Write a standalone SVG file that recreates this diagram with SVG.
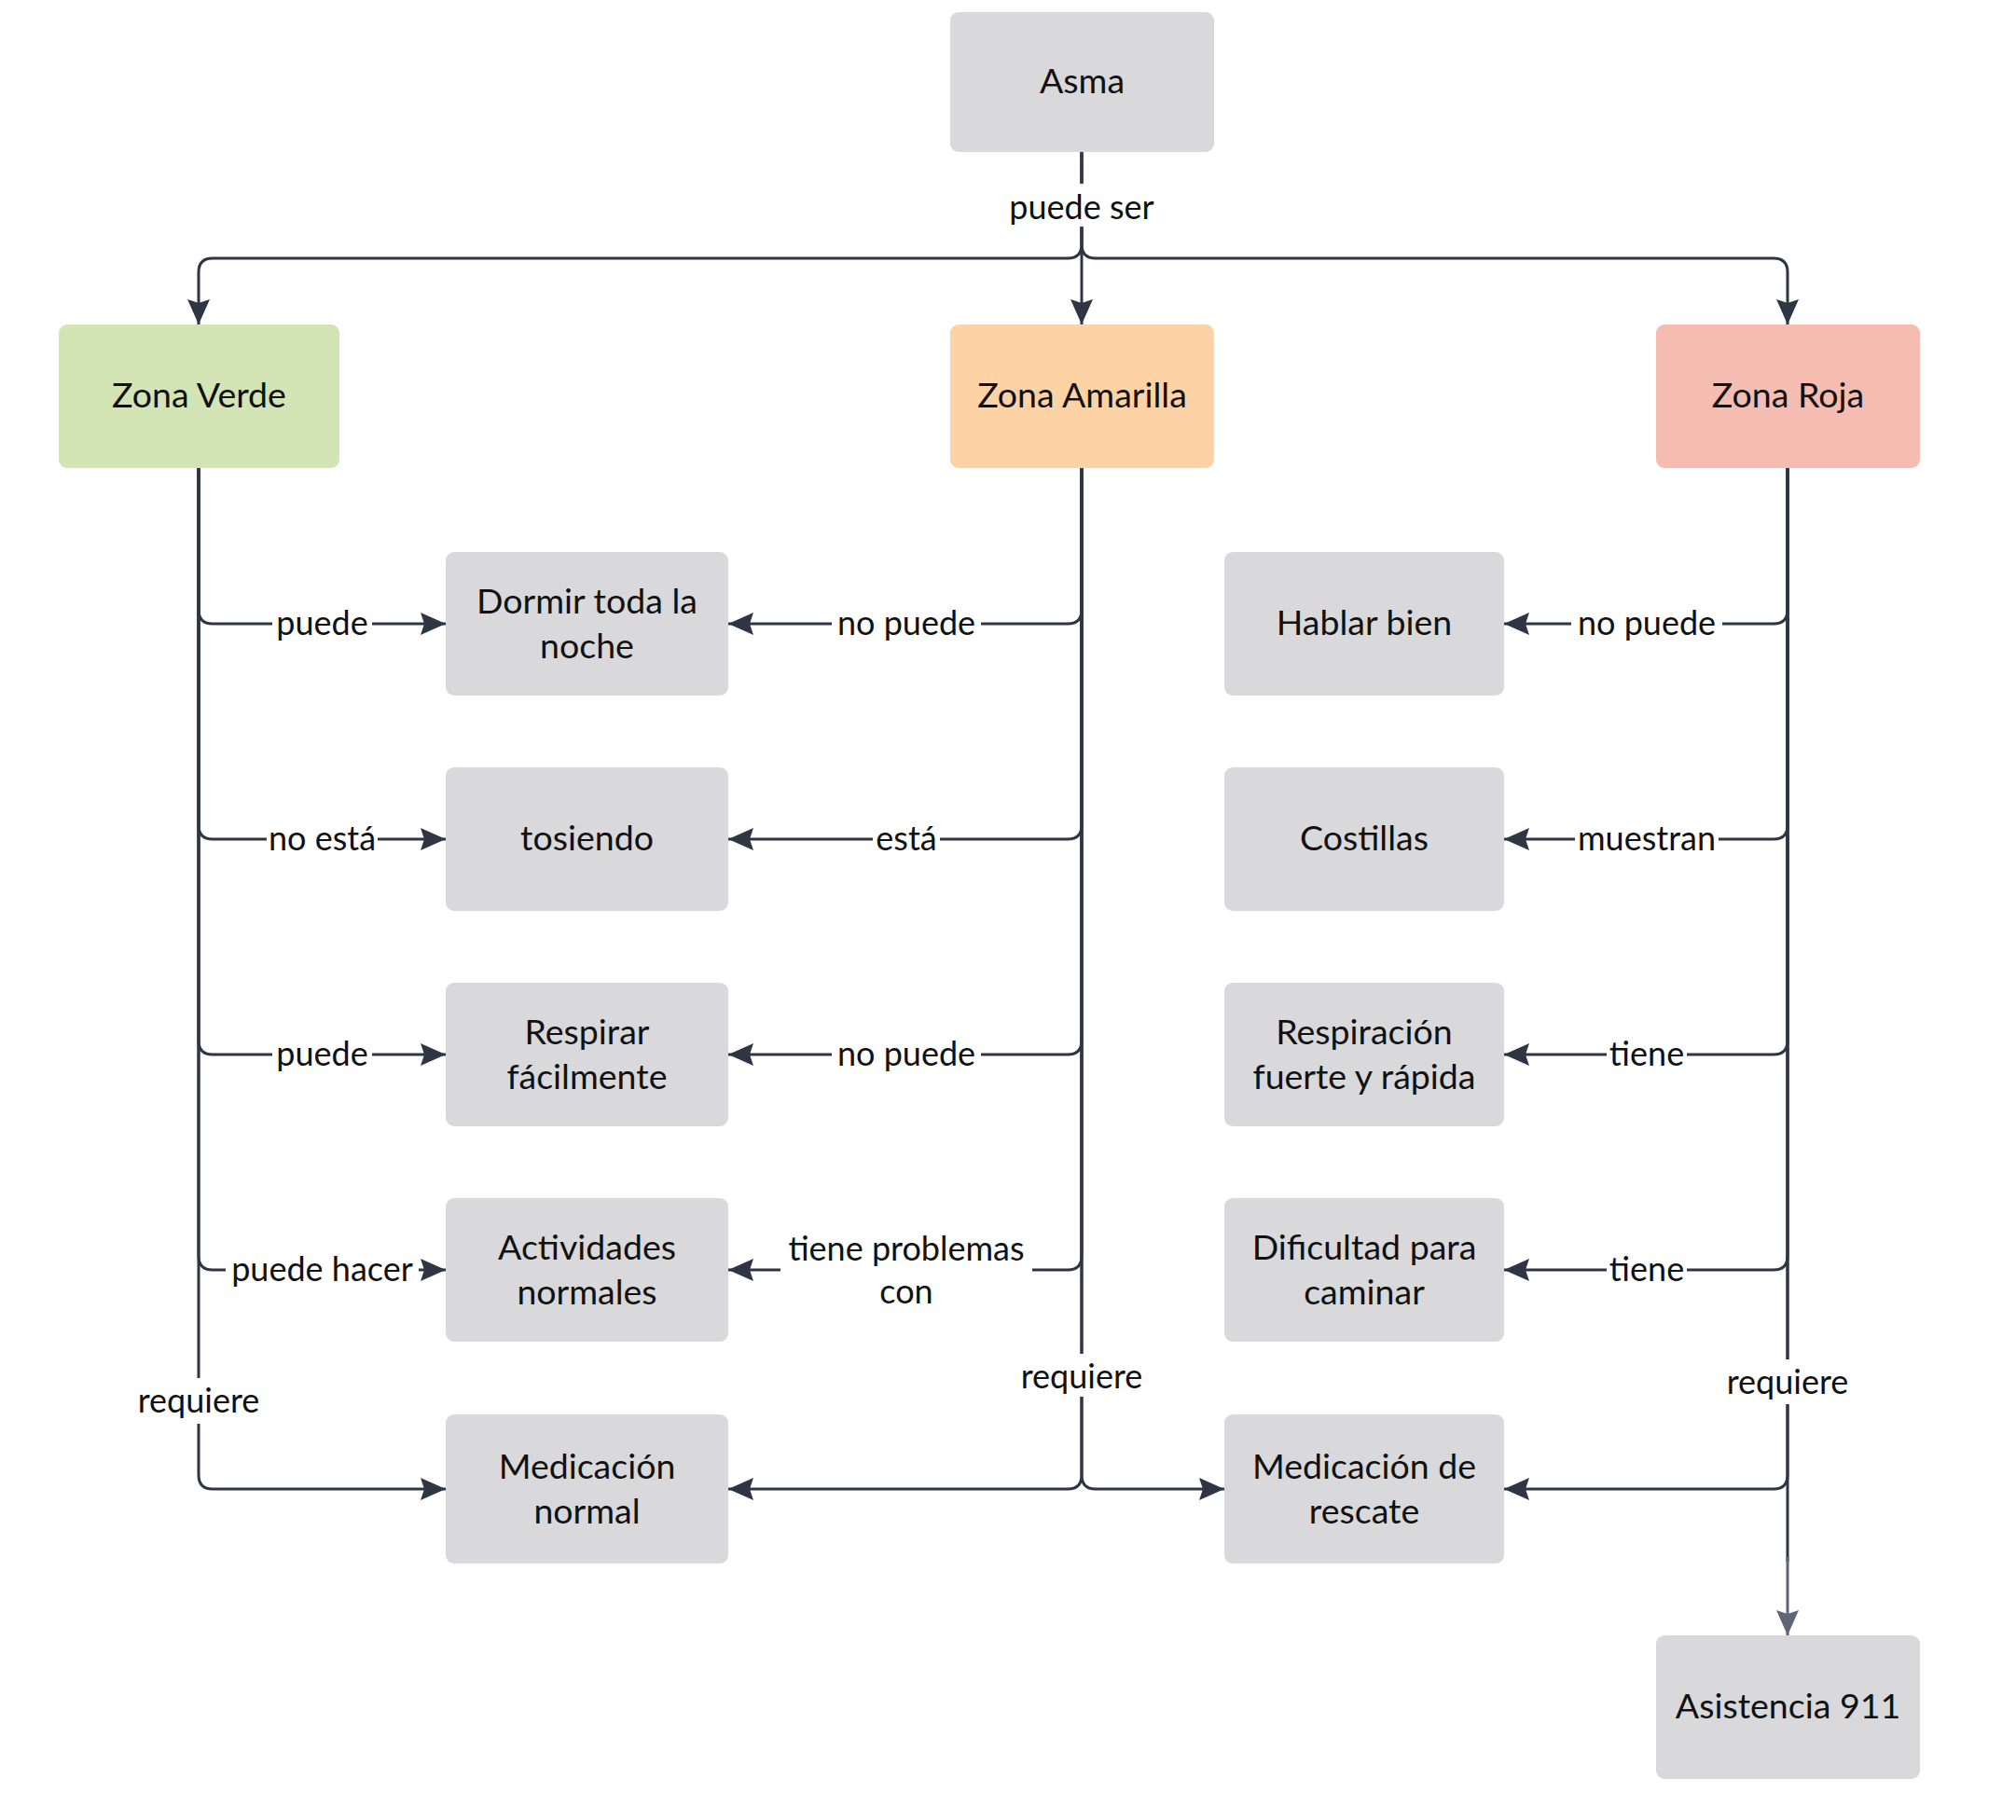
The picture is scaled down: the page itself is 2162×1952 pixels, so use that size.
<svg xmlns="http://www.w3.org/2000/svg" width="2162" height="1952" viewBox="0 0 2162 1952">
<defs>
<style>
.node{fill:#d9d9db;}
.verde{fill:#d3e5b5;}
.amar{fill:#fdd3a6;}
.roja{fill:#f5bdb1;}
.nt{font-family:Lato,"Noto Sans",sans-serif;font-size:37.5px;fill:#111;text-anchor:middle;}
.lt{font-family:Lato,"Noto Sans",sans-serif;font-size:36px;fill:#111;text-anchor:middle;}
.edge{fill:none;stroke:#2e3543;stroke-width:3;marker-end:url(#arr);}
.edge2{fill:none;stroke:#2e3543;stroke-width:3;}
.lbg{fill:#ffffff;}
</style>
<marker id="arr" markerUnits="userSpaceOnUse" markerWidth="28" markerHeight="24" refX="27" refY="12" orient="auto">
<path d="M0,0 L27,12 L0,24 L4,12 z" fill="#2e3543"/>
</marker>
<marker id="arrl" markerUnits="userSpaceOnUse" markerWidth="28" markerHeight="24" refX="27" refY="12" orient="auto">
<path d="M0,0 L27,12 L0,24 L4,12 z" fill="#5f6574"/>
</marker>
</defs>
<rect width="2162" height="1952" fill="#ffffff"/>

<g id="connectors">
<path class="edge" d="M1160,163 V262 Q1160,277 1145,277 H228 Q213,277 213,292 V348"/>
<path class="edge" d="M1160,163 V348"/>
<path class="edge" d="M1160,163 V262 Q1160,277 1175,277 H1902 Q1917,277 1917,292 V348"/>

<path class="edge" d="M213,502 V654 Q213,669 228,669 H478"/>
<path class="edge" d="M213,502 V885 Q213,900 228,900 H478"/>
<path class="edge" d="M213,502 V1116 Q213,1131 228,1131 H478"/>
<path class="edge" d="M213,502 V1347 Q213,1362 228,1362 H478"/>
<path class="edge" d="M213,502 V1582 Q213,1597 228,1597 H478"/>

<path class="edge" d="M1160,502 V654 Q1160,669 1145,669 H781"/>
<path class="edge" d="M1160,502 V885 Q1160,900 1145,900 H781"/>
<path class="edge" d="M1160,502 V1116 Q1160,1131 1145,1131 H781"/>
<path class="edge" d="M1160,502 V1347 Q1160,1362 1145,1362 H781"/>
<path class="edge" d="M1160,502 V1582 Q1160,1597 1145,1597 H781"/>
<path class="edge" d="M1160,502 V1582 Q1160,1597 1175,1597 H1313"/>

<path class="edge" d="M1917,502 V654 Q1917,669 1902,669 H1613"/>
<path class="edge" d="M1917,502 V885 Q1917,900 1902,900 H1613"/>
<path class="edge" d="M1917,502 V1116 Q1917,1131 1902,1131 H1613"/>
<path class="edge" d="M1917,502 V1347 Q1917,1362 1902,1362 H1613"/>
<path class="edge" d="M1917,502 V1582 Q1917,1597 1902,1597 H1613"/>
<path class="edge2" d="M1917,502 V1675"/>
<path fill="none" stroke="#5f6574" stroke-width="3" marker-end="url(#arrl)" d="M1917,1670 V1754"/>

<g id="edge-labels">
<rect class="lbg" x="1077" y="197" width="166" height="46"/>
<text class="lt" x="1160" y="235">puede ser</text>

<rect class="lbg" x="292" y="646" width="107" height="44"/>
<text class="lt" x="345.5" y="681">puede</text>
<rect class="lbg" x="286" y="877" width="119" height="44"/>
<text class="lt" x="345.5" y="912">no está</text>
<rect class="lbg" x="292" y="1108" width="107" height="44"/>
<text class="lt" x="345.5" y="1143">puede</text>
<rect class="lbg" x="242" y="1339" width="207" height="44"/>
<text class="lt" x="345.5" y="1374">puede hacer</text>
<rect class="lbg" x="146" y="1478" width="134" height="49"/>
<text class="lt" x="213" y="1515">requiere</text>

<rect class="lbg" x="892" y="646" width="160" height="44"/>
<text class="lt" x="972" y="681">no puede</text>
<rect class="lbg" x="936" y="877" width="72" height="44"/>
<text class="lt" x="972" y="912">está</text>
<rect class="lbg" x="892" y="1108" width="160" height="44"/>
<text class="lt" x="972" y="1143">no puede</text>
<rect class="lbg" x="837" y="1322" width="270" height="88"/>
<text class="lt" x="972" y="1352">tiene problemas</text>
<text class="lt" x="972" y="1398">con</text>
<rect class="lbg" x="1093" y="1452" width="134" height="46"/>
<text class="lt" x="1160" y="1489">requiere</text>

<rect class="lbg" x="1685" y="646" width="162" height="44"/>
<text class="lt" x="1766" y="681">no puede</text>
<rect class="lbg" x="1689" y="877" width="154" height="44"/>
<text class="lt" x="1766" y="912">muestran</text>
<rect class="lbg" x="1723" y="1108" width="86" height="44"/>
<text class="lt" x="1766" y="1143">tiene</text>
<rect class="lbg" x="1723" y="1339" width="86" height="44"/>
<text class="lt" x="1766" y="1374">tiene</text>
<rect class="lbg" x="1850" y="1458" width="134" height="48"/>
<text class="lt" x="1917" y="1495">requiere</text>
</g>
</g>

<g id="asma"><rect class="node" x="1019" y="13" width="283" height="150" rx="9"/><text class="nt" x="1160.5" y="100">Asma</text></g>
<g id="zona-verde"><rect class="verde" x="63" y="348" width="301" height="154" rx="9"/><text class="nt" x="213.5" y="437">Zona Verde</text></g>
<g id="zona-amarilla"><rect class="amar" x="1019" y="348" width="283" height="154" rx="9"/><text class="nt" x="1160.5" y="437">Zona Amarilla</text></g>
<g id="zona-roja"><rect class="roja" x="1776" y="348" width="283" height="154" rx="9"/><text class="nt" x="1917.5" y="437">Zona Roja</text></g>

<g id="dormir"><rect class="node" x="478" y="592" width="303" height="154" rx="9"/><text class="nt" x="629.5" y="658">Dormir toda la</text><text class="nt" x="629.5" y="706">noche</text></g>
<g id="tosiendo"><rect class="node" x="478" y="823" width="303" height="154" rx="9"/><text class="nt" x="629.5" y="912">tosiendo</text></g>
<g id="respirar"><rect class="node" x="478" y="1054" width="303" height="154" rx="9"/><text class="nt" x="629.5" y="1120">Respirar</text><text class="nt" x="629.5" y="1168">fácilmente</text></g>
<g id="actividades"><rect class="node" x="478" y="1285" width="303" height="154" rx="9"/><text class="nt" x="629.5" y="1351">Actividades</text><text class="nt" x="629.5" y="1399">normales</text></g>
<g id="medicacion-normal"><rect class="node" x="478" y="1517" width="303" height="160" rx="9"/><text class="nt" x="629.5" y="1586">Medicación</text><text class="nt" x="629.5" y="1634">normal</text></g>

<g id="hablar"><rect class="node" x="1313" y="592" width="300" height="154" rx="9"/><text class="nt" x="1463" y="681">Hablar bien</text></g>
<g id="costillas"><rect class="node" x="1313" y="823" width="300" height="154" rx="9"/><text class="nt" x="1463" y="912">Costillas</text></g>
<g id="respiracion"><rect class="node" x="1313" y="1054" width="300" height="154" rx="9"/><text class="nt" x="1463" y="1120">Respiración</text><text class="nt" x="1463" y="1168">fuerte y rápida</text></g>
<g id="dificultad"><rect class="node" x="1313" y="1285" width="300" height="154" rx="9"/><text class="nt" x="1463" y="1351">Dificultad para</text><text class="nt" x="1463" y="1399">caminar</text></g>
<g id="medicacion-rescate"><rect class="node" x="1313" y="1517" width="300" height="160" rx="9"/><text class="nt" x="1463" y="1586">Medicación de</text><text class="nt" x="1463" y="1634">rescate</text></g>

<g id="asistencia"><rect class="node" x="1776" y="1754" width="283" height="154" rx="9"/><text class="nt" x="1917.5" y="1843">Asistencia 911</text></g>
</svg>
